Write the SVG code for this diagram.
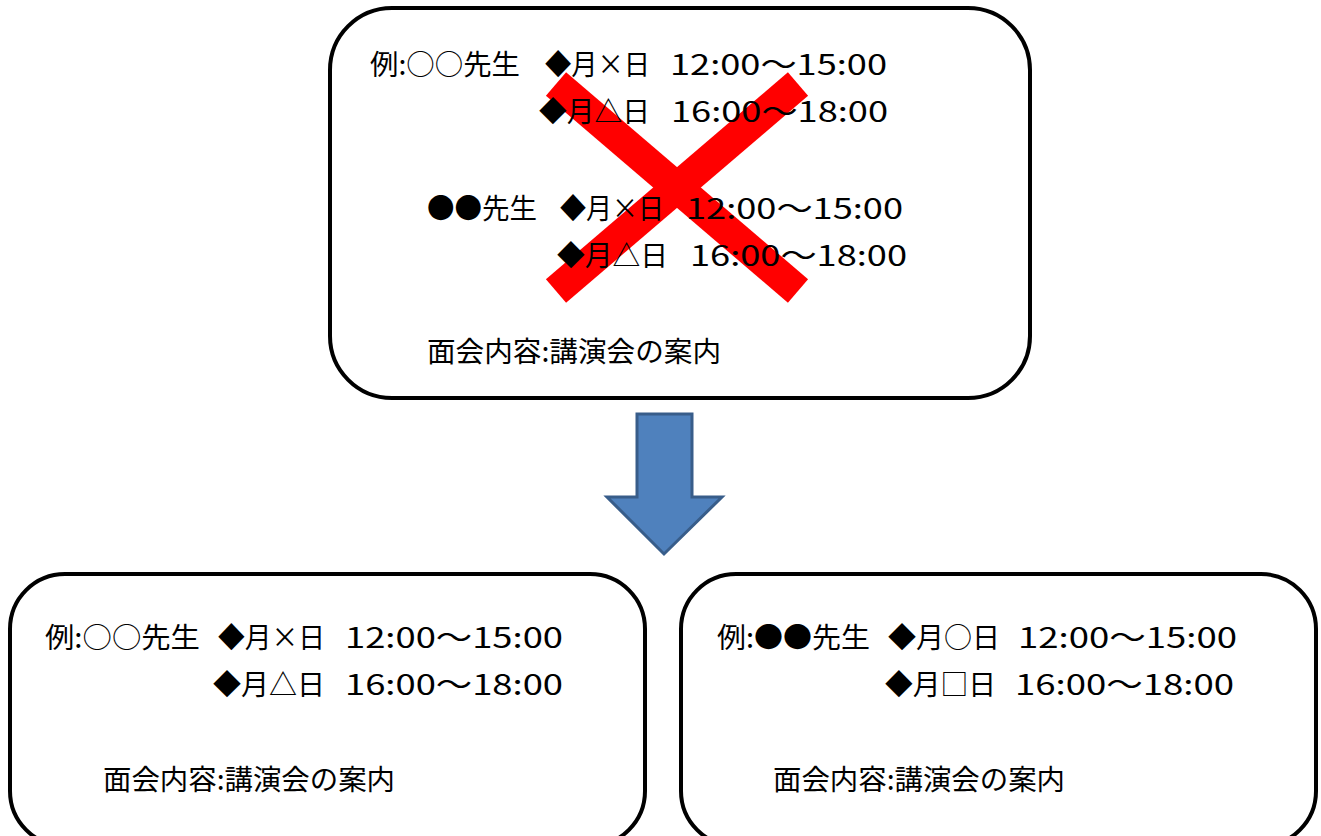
<svg xmlns="http://www.w3.org/2000/svg" width="1321" height="836" viewBox="0 0 1321 836">
<style>
.box{fill:#fff;stroke:#000;stroke-width:4}
.t{font-family:"Noto Sans CJK JP","Noto Sans CJK SC",sans-serif;font-size:28px;fill:#000}
.x{stroke:#ff0000;stroke-width:31;stroke-linecap:butt}
</style>
<rect width="1321" height="836" fill="#fff"/>
<g id="node-top">
<rect class="box" x="330" y="8" width="700" height="390" rx="62" ry="62"/>
<g id="cross">
<line class="x" x1="556" y1="84" x2="798" y2="291"/>
<line class="x" x1="798" y1="84" x2="556" y2="291"/>
</g>
<text class="t" x="370" y="75" textLength="150" lengthAdjust="spacingAndGlyphs">例:○○先生</text>
<text class="t" x="545" y="75" textLength="105" lengthAdjust="spacingAndGlyphs">◆月×日</text>
<text class="t" x="670" y="75" textLength="217" lengthAdjust="spacingAndGlyphs">12:00～15:00</text>
<text class="t" x="539" y="122" textLength="111" lengthAdjust="spacingAndGlyphs">◆月△日</text>
<text class="t" x="671" y="122" textLength="217" lengthAdjust="spacingAndGlyphs">16:00～18:00</text>
<text class="t" x="427" y="219" textLength="110" lengthAdjust="spacingAndGlyphs">●●先生</text>
<text class="t" x="560" y="219" textLength="104" lengthAdjust="spacingAndGlyphs">◆月×日</text>
<text class="t" x="686" y="219" textLength="217" lengthAdjust="spacingAndGlyphs">12:00～15:00</text>
<text class="t" x="557" y="266" textLength="111" lengthAdjust="spacingAndGlyphs">◆月△日</text>
<text class="t" x="690" y="266" textLength="217" lengthAdjust="spacingAndGlyphs">16:00～18:00</text>
<text class="t" x="427" y="362" textLength="294" lengthAdjust="spacingAndGlyphs">面会内容:講演会の案内</text>
</g>
<g id="connectors">
<polygon points="637,414 692,414 692,497 722,497 664,554 607,497 637,497" fill="#4F81BD" stroke="#385D8A" stroke-width="3" stroke-linejoin="miter"/>
</g>
<g id="node-left">
<rect class="box" x="10" y="574" width="635" height="272" rx="55" ry="55"/>
<text class="t" x="45" y="648" textLength="155" lengthAdjust="spacingAndGlyphs">例:○○先生</text>
<text class="t" x="218" y="648" textLength="107" lengthAdjust="spacingAndGlyphs">◆月×日</text>
<text class="t" x="345" y="648" textLength="218" lengthAdjust="spacingAndGlyphs">12:00～15:00</text>
<text class="t" x="213" y="695" textLength="112" lengthAdjust="spacingAndGlyphs">◆月△日</text>
<text class="t" x="345" y="695" textLength="218" lengthAdjust="spacingAndGlyphs">16:00～18:00</text>
<text class="t" x="103" y="790" textLength="292" lengthAdjust="spacingAndGlyphs">面会内容:講演会の案内</text>
</g>
<g id="node-right">
<rect class="box" x="681" y="574" width="635" height="272" rx="55" ry="55"/>
<text class="t" x="717" y="648" textLength="153" lengthAdjust="spacingAndGlyphs">例:●●先生</text>
<text class="t" x="888" y="648" textLength="112" lengthAdjust="spacingAndGlyphs">◆月○日</text>
<text class="t" x="1018" y="648" textLength="219" lengthAdjust="spacingAndGlyphs">12:00～15:00</text>
<text class="t" x="885" y="695" textLength="111" lengthAdjust="spacingAndGlyphs">◆月□日</text>
<text class="t" x="1015" y="695" textLength="219" lengthAdjust="spacingAndGlyphs">16:00～18:00</text>
<text class="t" x="773" y="790" textLength="292" lengthAdjust="spacingAndGlyphs">面会内容:講演会の案内</text>
</g>
</svg>
